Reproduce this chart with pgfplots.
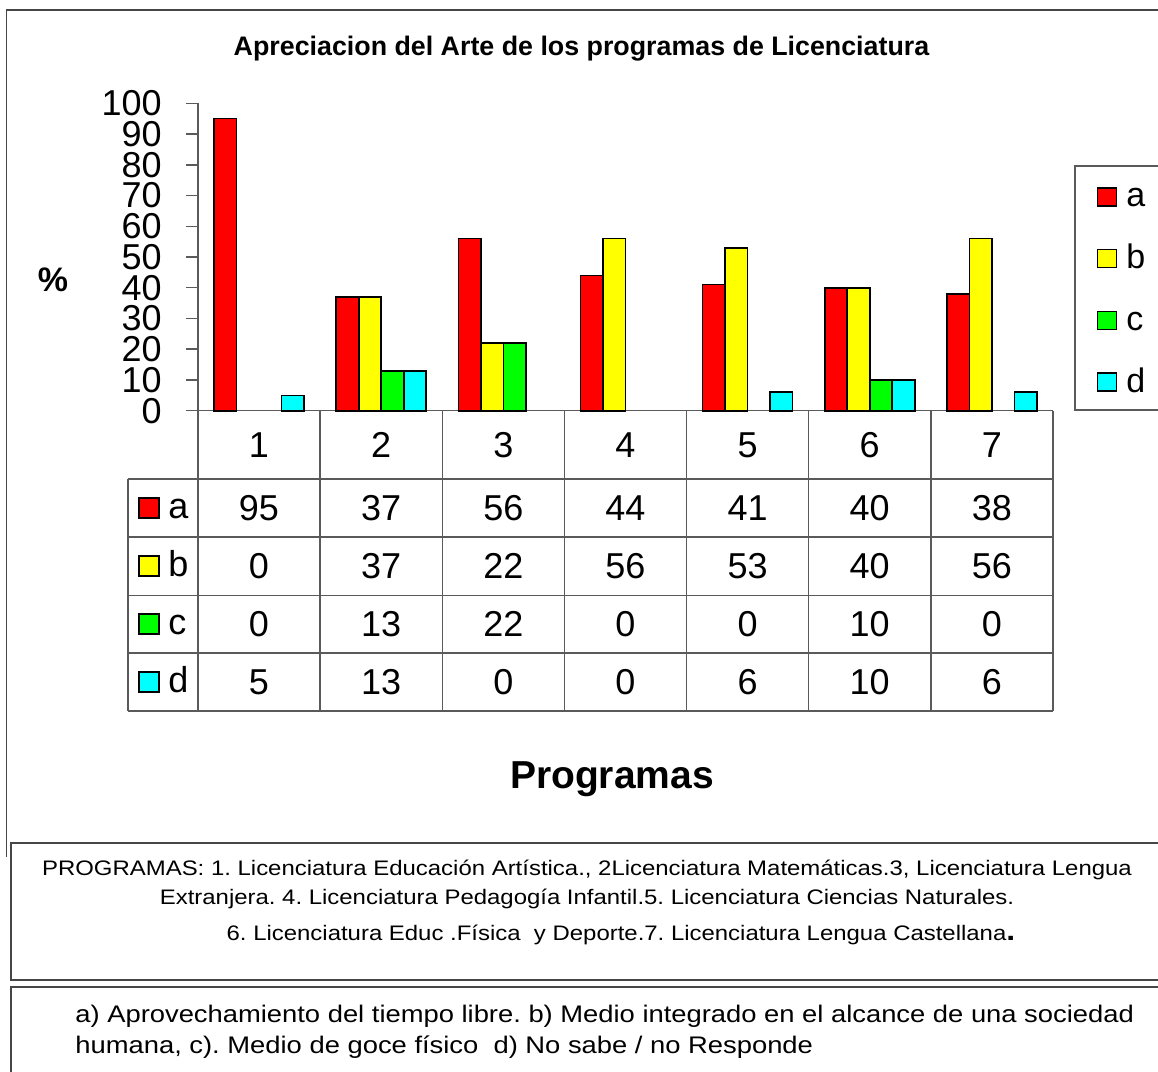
\documentclass[border=0pt]{standalone}
\usepackage{fontspec}
\setmainfont{Liberation Sans}
\newfontfamily\notefont[FakeStretch=1.14]{Liberation Sans}
\usepackage{pgfplots}
\usepackage{pgfplotstable}
\pgfplotsset{compat=1.18}

\definecolor{framegray}{RGB}{70,70,70}
\definecolor{axisgray}{RGB}{90,90,90}
\definecolor{ca}{RGB}{255,0,0}
\definecolor{cb}{RGB}{255,255,0}
\definecolor{cc}{RGB}{0,255,0}
\definecolor{cd}{RGB}{0,255,255}

% porcentaje por programa (1..7) y respuesta a-d
\pgfplotstableread{
prog a  b  c  d
1    95 0  0  5
2    37 37 13 13
3    56 22 22 0
4    44 56 0  0
5    41 53 0  6
6    40 40 10 10
7    38 56 0  6
}\datatable

\newcommand{\tabfont}{\fontsize{18pt}{18pt}\selectfont}

\begin{document}
\frenchspacing
\begin{tikzpicture}
% page = 1158 x 1072 px, 1 px = 0.5pt
\path[use as bounding box] (0,0) rectangle (579pt,-536pt);
\clip (0,0) rectangle (579pt,-536pt);

\begin{axis}[
    at={(99pt,-205.35pt)}, anchor=south west,
    scale only axis, width=427.5pt, height=153.7pt,
    xmin=0.5, xmax=7.5, ymin=0, ymax=100,
    axis x line*=bottom, axis y line*=left,
    axis line style={draw=axisgray, line width=0.75pt},
    xtick=\empty,
    ytick={0,10,...,100},
    tick align=outside, major tick length=6pt,
    tick style={draw=axisgray, line width=0.75pt},
    yticklabel style={font=\fontsize{18pt}{18pt}\selectfont, inner xsep=0pt, inner ysep=0pt, xshift=-12pt},
    /pgf/number format/assume math mode=true,
    ybar=0pt, bar width=11.25pt,
    y filter/.expression={y==0 ? nan : y},
    clip=false,
    legend image code/.code={\draw[#1, line width=0.8pt, draw=black] (0pt,0.5pt) rectangle (9.5pt,9.5pt); \path (14pt,0pt);},
    legend style={at={(1.0246,0.7993)}, anchor=north west, draw=axisgray, line width=0.75pt,
        inner xsep=11pt, inner ysep=8.5pt, row sep=18.5pt, column sep=0pt,
        nodes={inner sep=0pt, text height=12pt, text depth=0pt, text width=26pt, align=left,
               anchor=base west, font=\fontsize{17pt}{17pt}\selectfont}},
    legend cell align=left,
]
\addplot[fill=ca, draw=black, line width=0.8pt] table[x=prog, y=a] {\datatable};
\addplot[fill=cb, draw=black, line width=0.8pt] table[x=prog, y=b] {\datatable};
\addplot[fill=cc, draw=black, line width=0.8pt] table[x=prog, y=c] {\datatable};
\addplot[fill=cd, draw=black, line width=0.8pt] table[x=prog, y=d] {\datatable};
\legend{a,b,c,d}
\end{axis}

\begin{scope}[x=0.5pt, y=-0.5pt]
  % marcos
  \draw[framegray, line width=0.75pt] (6.5,857) -- (6.5,10) -- (1170,10);
  \draw[framegray, line width=0.75pt] (1170,843) -- (11,843) -- (11,980) -- (1170,980);
  \draw[framegray, line width=0.75pt] (1170,987) -- (11,987) -- (11,1090);

  % titulo y etiquetas
  \node[anchor=base, inner sep=0pt, font=\fontsize{13.4pt}{13.4pt}\selectfont\bfseries] at (581.5,55)
    {Apreciacion del Arte de los programas de Licenciatura};
  \node[anchor=base, inner sep=0pt, font=\fontsize{17pt}{17pt}\selectfont\bfseries] at (53,291) {\%};
  \node[anchor=base, inner sep=0pt, font=\fontsize{19.5pt}{19.5pt}\selectfont\bfseries] at (612,788) {Programas};

  % tabla de datos
  \foreach \yy in {479,537,595.7,653,711}
    \draw[axisgray, line width=0.75pt] (128,\yy) -- (1053,\yy);
  \draw[axisgray, line width=0.75pt] (128,479) -- (128,711);
  \foreach \i in {0,...,7}
    \draw[axisgray, line width=0.75pt] ({198+122.14*\i},410.7) -- ({198+122.14*\i},711);
  \foreach \r in {0,...,6} {
    \pgfplotstablegetelem{\r}{prog}\of\datatable
    \node[anchor=base, inner sep=0pt, font=\tabfont] at ({259+122.14*\r},457) {\pgfplotsretval};
    \foreach [count=\k from 0] \c in {a,b,c,d} {
      \pgfplotstablegetelem{\r}{\c}\of\datatable
      \node[anchor=base, inner sep=0pt, font=\tabfont] at ({259+122.14*\r},{520+58*\k}) {\pgfplotsretval};
    }
  }
  \foreach [count=\k from 0] \c/\col in {a/ca,b/cb,c/cc,d/cd} {
    \draw[fill=\col, line width=0.8pt] (139,{498+58*\k}) rectangle (159,{518+58*\k});
    \node[anchor=base west, inner sep=0pt, font=\tabfont] at (168,{518+58*\k}) {\c};
  }

  % notas
  \begin{scope}[every node/.style={anchor=base, inner sep=0pt, font=\notefont\fontsize{10.5pt}{10.5pt}\selectfont}]
    \node at (587,875) {PROGRAMAS: 1. Licenciatura Educación Artística., 2Licenciatura Matemáticas.3, Licenciatura Lengua};
    \node at (587,904) {Extranjera. 4. Licenciatura Pedagogía Infantil.5. Licenciatura Ciencias Naturales.};
    \node at (621,940) {6. Licenciatura Educ .Física\ \ y Deporte.7. Licenciatura Lengua Castellana{\fontsize{14pt}{14pt}\selectfont\bfseries .}};
  \end{scope}
  \begin{scope}[every node/.style={anchor=base west, inner sep=0pt, font=\notefont\fontsize{12pt}{12pt}\selectfont}]
    \node at (75,1022) {a) Aprovechamiento del tiempo libre. b) Medio integrado en el alcance de una sociedad};
    \node at (75,1053) {humana, c). Medio de goce físico\ \ d) No sabe / no Responde};
  \end{scope}
\end{scope}
\end{tikzpicture}
\end{document}
